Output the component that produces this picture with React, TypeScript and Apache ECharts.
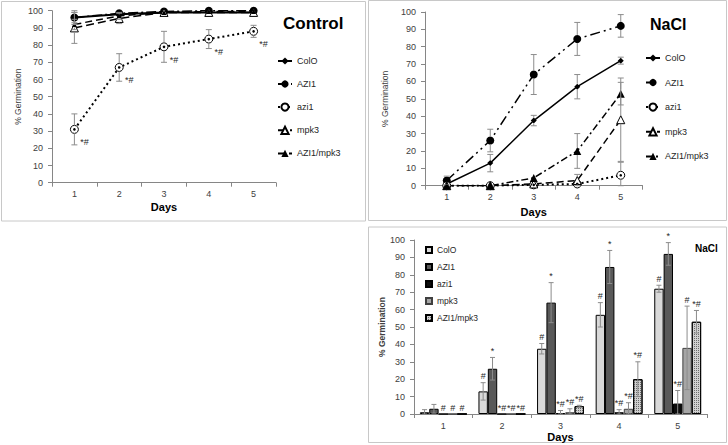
import React, { useEffect, useRef } from "react";
import * as echarts from "echarts";

// ---------- data ----------
const days = ["1", "2", "3", "4", "5"];
const names = ["ColO", "AZI1", "azi1", "mpk3", "AZI1/mpk3"];

// Control (line chart)
const ctrlColO = [96, 98, 99, 99, 99];
const ctrlAZI1 = [96, 98.5, 99.5, 100, 100];
const ctrlAzi1 = [31, 67, 79, 83.5, 88];
const ctrlMpk3 = [90, 95.5, 99, 99, 99];
const ctrlAZI1mpk3 = [92, 97, 99, 99.5, 99.5];
const ctrlColOErr = [3, 1, 0.5, 0.5, 0.5];
const ctrlAZI1Err = [4, 1.5, 0.5, 0, 0];
const ctrlAzi1Err = [9, 8, 9, 5.5, 3.5];
const ctrlMpk3Err = [9, 3, 1, 1, 1];
const ctrlAZI1mpk3Err = [3, 2, 1, 0.5, 0.5];
const ctrlAzi1Marks = ["*#", "*#", "*#", "*#", "*#"];

// NaCl (line chart and bar chart)
const naclColO = [1, 13, 37.5, 57, 72];
const naclAZI1 = [3, 26, 64, 84.5, 92];
const naclAzi1 = [0, 0, 0.5, 1, 6];
const naclMpk3 = [0, 0, 1, 3, 38];
const naclAZI1mpk3 = [0, 0, 4.5, 20, 53];
const naclColOErr = [1.5, 5, 3, 7, 2];
const naclAZI1Err = [2.5, 6.5, 11.5, 9.5, 6.5];
const naclAzi1Err = [0, 0, 1.5, 1.5, 7.5];
const naclMpk3Err = [0, 0, 2, 3.5, 24];
const naclAZI1mpk3Err = [0, 0, 0.5, 10, 6.5];

// significance marks on the bar chart
const barColOMarks = ["", "#", "#", "#", "#"];
const barAZI1Marks = ["", "*", "*", "*", "*"];
const barAzi1Marks = ["#", "*#", "*#", "*#", "*#"];
const barMpk3Marks = ["#", "*#", "*#", "*#", "#"];
const barAZI1mpk3Marks = ["#", "*#", "*#", "*#", "*#"];

const FONT = "Liberation Sans";
const AXIS = "#868686";
const LABEL = "#404040";

// ---------- helpers ----------
function lineSeries(name: string, grid: number, data: number[], symbol: string, size: number, hollow: boolean, dash: any, width = 1.5) {
  return {
    type: "line",
    name,
    xAxisIndex: grid,
    yAxisIndex: grid,
    data,
    symbol,
    symbolSize: size,
    showAllSymbol: true,
    z: 3,
    itemStyle: hollow
      ? { color: "#ffffff", borderColor: "#000000", borderWidth: 1 }
      : { color: "#000000", borderColor: "#000000", borderWidth: 0 },
    lineStyle: { color: "#000000", width, type: dash },
    emphasis: { disabled: true },
  };
}

function errLine(grid: number, vals: number[], errs: number[], r: number, dot = false, marks?: string[], dx = 0, dy = 0) {
  return {
    type: "custom",
    xAxisIndex: grid,
    yAxisIndex: grid,
    z: 4,
    silent: true,
    data: vals.map((v, i) => [i, v, errs[i]]),
    encode: { x: 0, y: 1 },
    renderItem: (params: any, api: any) => {
      const i = api.value(0);
      const v = api.value(1);
      const e = api.value(2);
      const p = api.coord([i, v]);
      const st = { stroke: "#8c8c8c", lineWidth: 1 };
      const children: any[] = [];
      if (e > 0) {
        const t = api.coord([i, v + e]);
        const b = api.coord([i, Math.max(0, v - e)]);
        if (p[1] - t[1] > r) {
          children.push({ type: "line", shape: { x1: p[0], y1: t[1], x2: p[0], y2: p[1] - r }, style: st });
          children.push({ type: "line", shape: { x1: p[0] - 3, y1: t[1], x2: p[0] + 3, y2: t[1] }, style: st });
        }
        if (b[1] - p[1] > r) {
          children.push({ type: "line", shape: { x1: p[0], y1: p[1] + r, x2: p[0], y2: b[1] }, style: st });
          children.push({ type: "line", shape: { x1: p[0] - 3, y1: b[1], x2: p[0] + 3, y2: b[1] }, style: st });
        }
      }
      if (dot) {
        children.push({ type: "circle", shape: { cx: p[0], cy: p[1], r: 1.3 }, style: { fill: "#000" } });
      }
      if (marks && marks[params.dataIndex]) {
        children.push({
          type: "text",
          x: p[0] + dx,
          y: p[1] + dy,
          style: { text: marks[params.dataIndex], fontSize: 9, fontFamily: FONT, fill: "#262626", align: "center", verticalAlign: "middle" },
        });
      }
      return { type: "group", children };
    },
  };
}

function errBar(grid: number, k: number, vals: number[], errs: number[], marks: string[]) {
  return {
    type: "custom",
    xAxisIndex: grid,
    yAxisIndex: grid,
    z: 5,
    silent: true,
    data: vals.map((v, i) => [i, v, errs[i]]),
    encode: { x: 0, y: 1 },
    renderItem: (params: any, api: any) => {
      const i = api.value(0);
      const v = api.value(1);
      const e = api.value(2);
      const band = api.size([1, 0])[0];
      const p = api.coord([i, v]);
      const cx = p[0] + (-0.4 + (k + 0.5) * 0.16) * band;
      const st = { stroke: "#8c8c8c", lineWidth: 1 };
      const children: any[] = [];
      let top = p[1];
      if (e > 0) {
        const t = api.coord([i, v + e]);
        const b = api.coord([i, Math.max(0, v - e)]);
        top = t[1];
        children.push({ type: "line", shape: { x1: cx, y1: t[1], x2: cx, y2: b[1] }, style: st });
        children.push({ type: "line", shape: { x1: cx - 2.5, y1: t[1], x2: cx + 2.5, y2: t[1] }, style: st });
        children.push({ type: "line", shape: { x1: cx - 2.5, y1: b[1], x2: cx + 2.5, y2: b[1] }, style: st });
      }
      const m = marks[params.dataIndex];
      if (m) {
        children.push({
          type: "text",
          x: cx,
          y: top - 2,
          style: { text: m, fontSize: 9, fontFamily: FONT, fill: "#262626", align: "center", verticalAlign: "bottom" },
        });
      }
      return { type: "group", children };
    },
  };
}

function xAxis(grid: number, gap: number) {
  return {
    type: "category",
    gridIndex: grid,
    data: days,
    axisLine: { lineStyle: { color: AXIS, width: 1 } },
    axisTick: { show: true, length: 4, lineStyle: { color: AXIS } },
    axisLabel: { fontSize: 9, color: LABEL, margin: 7, fontFamily: FONT },
    splitLine: { show: false },
    name: "Days",
    nameLocation: "middle",
    nameGap: gap,
    nameTextStyle: { fontSize: 11, fontWeight: "bold", color: "#000", fontFamily: FONT },
  };
}

function yAxis(grid: number, gap: number, bold: boolean) {
  return {
    type: "value",
    gridIndex: grid,
    min: 0,
    max: 100,
    interval: 10,
    axisLine: { show: true, lineStyle: { color: AXIS, width: 1 } },
    axisTick: { show: true, length: 4, lineStyle: { color: AXIS } },
    axisLabel: { fontSize: 9, color: LABEL, margin: 9, fontFamily: FONT },
    splitLine: { show: false },
    name: "% Germination",
    nameLocation: "middle",
    nameGap: gap,
    nameRotate: 90,
    nameTextStyle: { fontSize: 8.5, color: LABEL, fontWeight: bold ? "bold" : "normal", fontFamily: FONT },
  };
}

const strip = (n: string) => n.split("@")[0];

export default function App() {
  const ref = useRef<HTMLDivElement>(null);
  useEffect(() => {
    document.body.style.margin = "0";
    if (!ref.current) return;
    const chart = echarts.init(ref.current, undefined, { renderer: "svg" });

    const ctrlVals = [ctrlColO, ctrlAZI1, ctrlAzi1, ctrlMpk3, ctrlAZI1mpk3];
    const naclVals = [naclColO, naclAZI1, naclAzi1, naclMpk3, naclAZI1mpk3];
    const naclErrs = [naclColOErr, naclAZI1Err, naclAzi1Err, naclMpk3Err, naclAZI1mpk3Err];
    const barMarks = [barColOMarks, barAZI1Marks, barAzi1Marks, barMpk3Marks, barAZI1mpk3Marks];

    const cN = names.map((n) => n + "@c");
    const nN = names.map((n) => n + "@n");
    const bN = names.map((n) => n + "@b");

    const barColors = ["#d9d9d9", "#595959", "#0d0d0d", "#a6a6a6", "#d0d0d0"];

    const barSeries = naclVals.map((vals, k) => ({
      type: "bar",
      name: bN[k],
      xAxisIndex: 2,
      yAxisIndex: 2,
      data: vals,
      barGap: "0%",
      barCategoryGap: "20%",
      z: 2,
      itemStyle: {
        color: barColors[k],
        borderColor: k === 3 ? "#404040" : "#000000",
        borderWidth: 1,
        decal:
          k === 4
            ? { symbol: "rect", symbolSize: 1, color: "#6a6a6a", dashArrayX: [1, 1], dashArrayY: [1, 1], rotation: 0 }
            : undefined,
      },
      emphasis: { disabled: true },
    }));

    const option: any = {
      animation: false,
      backgroundColor: "#ffffff",
      textStyle: { fontFamily: FONT },
      graphic: [
        { type: "rect", silent: true, z: -10, shape: { x: 1.5, y: 1.5, width: 364, height: 219.5 }, style: { fill: "none", stroke: "#c8c8c8", lineWidth: 1 } },
        { type: "rect", silent: true, z: -10, shape: { x: 368.5, y: 0.5, width: 358, height: 220 }, style: { fill: "none", stroke: "#c8c8c8", lineWidth: 1 } },
        { type: "rect", silent: true, z: -10, shape: { x: 368.5, y: 227, width: 358, height: 215.5 }, style: { fill: "none", stroke: "#c8c8c8", lineWidth: 1 } },
      ],
      title: [
        { text: "Control", left: 283, top: 15, padding: 0, textStyle: { fontSize: 17, fontWeight: "bold", color: "#000", fontFamily: FONT } },
        { text: "NaCl", left: 650, top: 16, padding: 0, textStyle: { fontSize: 16, fontWeight: "bold", color: "#000", fontFamily: FONT } },
        { text: "NaCl", left: 695, top: 243, padding: 0, textStyle: { fontSize: 10, fontWeight: "bold", color: "#000", fontFamily: FONT } },
      ],
      legend: [
        {
          data: cN, formatter: strip, orient: "vertical", left: 277, top: 56.5, padding: 0,
          itemWidth: 14, itemHeight: 9, itemGap: 14, selectedMode: false,
          textStyle: { fontSize: 9, color: "#262626", fontFamily: FONT },
        },
        {
          data: nN, formatter: strip, orient: "vertical", left: 645, top: 53.5, padding: 0,
          itemWidth: 14, itemHeight: 9, itemGap: 15.5, selectedMode: false,
          textStyle: { fontSize: 9, color: "#262626", fontFamily: FONT },
        },
        {
          data: bN, formatter: strip, orient: "vertical", left: 425, top: 245.5, padding: 0, icon: "rect",
          itemWidth: 6, itemHeight: 6, itemGap: 8, selectedMode: false,
          textStyle: { fontSize: 8.5, color: "#262626", fontFamily: FONT },
        },
      ],
      grid: [
        { left: 52, top: 10.7, width: 224, height: 172, outerBoundsMode: "none", containLabel: false },
        { left: 425, top: 12, width: 217.5, height: 173.7, outerBoundsMode: "none", containLabel: false },
        { left: 414, top: 240, width: 293, height: 174, outerBoundsMode: "none", containLabel: false },
      ],
      xAxis: [xAxis(0, 19), xAxis(1, 21), xAxis(2, 17)],
      yAxis: [yAxis(0, 30, false), yAxis(1, 36, false), yAxis(2, 27, true)],
      series: [
        // Control
        lineSeries(cN[0], 0, ctrlVals[0], "diamond", 6, false, "solid", 2),
        lineSeries(cN[1], 0, ctrlVals[1], "circle", 8, false, [10, 3, 2, 3], 1.5),
        lineSeries(cN[2], 0, ctrlVals[2], "circle", 8, true, [2, 3], 2),
        lineSeries(cN[3], 0, ctrlVals[3], "triangle", 8, true, [8, 4], 1.5),
        lineSeries(cN[4], 0, ctrlVals[4], "triangle", 5, false, [7, 4], 1.5),
        errLine(0, ctrlColO, ctrlColOErr, 3),
        errLine(0, ctrlAZI1, ctrlAZI1Err, 4),
        errLine(0, ctrlAzi1, ctrlAzi1Err, 4, true, ctrlAzi1Marks, 10, 13),
        errLine(0, ctrlMpk3, ctrlMpk3Err, 4),
        errLine(0, ctrlAZI1mpk3, ctrlAZI1mpk3Err, 3),
        // NaCl line chart
        lineSeries(nN[0], 1, naclVals[0], "diamond", 6, false, "solid", 1.5),
        lineSeries(nN[1], 1, naclVals[1], "circle", 8, false, [10, 4, 2, 4, 2, 4], 1.5),
        lineSeries(nN[2], 1, naclVals[2], "circle", 8, true, [2, 3], 2),
        lineSeries(nN[3], 1, naclVals[3], "triangle", 8, true, [7, 4], 1.5),
        lineSeries(nN[4], 1, naclVals[4], "triangle", 8, false, [7, 3, 2, 3], 1.5),
        ...naclVals.map((vals, k) => errLine(1, vals, naclErrs[k], k === 0 ? 3 : 4, k === 2)),
        // NaCl bar chart
        ...barSeries,
        ...naclVals.map((vals, k) => errBar(2, k, vals, naclErrs[k], barMarks[k])),
      ],
    };
    chart.setOption(option);
    return () => chart.dispose();
  }, []);
  return <div ref={ref} style={{ width: 728, height: 445 }} />;
}
